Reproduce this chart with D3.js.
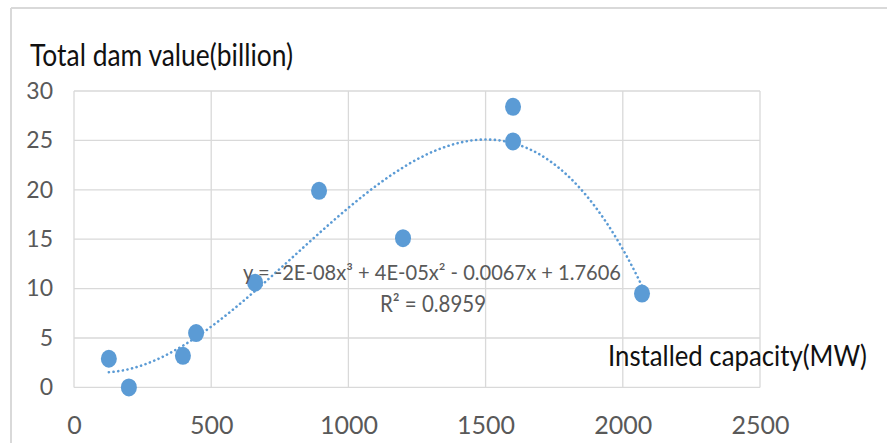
<!DOCTYPE html>
<html>
<head>
<meta charset="utf-8">
<script src="https://cdn.jsdelivr.net/npm/d3@7"></script>
<style>
  body { margin: 0; background: #fff; }
  svg text { font-family: Lato, "Open Sans", sans-serif; }
</style>
</head>
<body>
<svg id="chart" width="887" height="443"></svg>
<script>
// Installed capacity (MW) and total dam value (billion) for each dam
const capacity = [127, 200, 397, 445, 660, 893, 1199, 1600, 1600, 2070];
const damValue = [2.9, 0, 3.2, 5.5, 10.6, 19.9, 15.1, 28.4, 24.9, 9.5];

const xTicks = [0, 500, 1000, 1500, 2000, 2500];
const yTicks = [0, 5, 10, 15, 20, 25, 30];

const titleText = "Total dam value(billion)";
const xLabelText = "Installed capacity(MW)";
const equationText = "y = -2E-08x³ + 4E-05x² - 0.0067x + 1.7606";
const r2Text = "R² = 0.8959";

const blue = "#5b9bd5";
const gridColor = "#d9d9d9";
const tickColor = "#595959";

const svg = d3.select("#chart");

// Outer chart frame: top and left edges
svg.append("line")
  .attr("x1", 11).attr("x2", 887).attr("y1", 8).attr("y2", 8)
  .attr("stroke", gridColor).attr("stroke-width", 2);
svg.append("line")
  .attr("x1", 11).attr("x2", 11).attr("y1", 8).attr("y2", 443)
  .attr("stroke", gridColor).attr("stroke-width", 2);

const x = d3.scaleLinear().domain([0, 2500]).range([74, 760]);
const y = d3.scaleLinear().domain([0, 30]).range([387.4, 91]);

// Gridlines
svg.append("g").selectAll("line").data(xTicks).join("line")
  .attr("x1", d => x(d)).attr("x2", d => x(d))
  .attr("y1", y(30)).attr("y2", y(0))
  .attr("stroke", gridColor).attr("stroke-width", 1.3);
svg.append("g").selectAll("line").data(yTicks).join("line")
  .attr("x1", x(0)).attr("x2", x(2500))
  .attr("y1", d => y(d)).attr("y2", d => y(d))
  .attr("stroke", gridColor).attr("stroke-width", 1.3);

// Axes (labels only)
const yAxis = svg.append("g")
  .attr("transform", `translate(${x(0)},0)`)
  .call(d3.axisLeft(y).tickValues(yTicks).tickFormat(d3.format("d")).tickSize(0).tickPadding(21));
yAxis.select(".domain").remove();
yAxis.selectAll("text")
  .attr("font-family", "Lato, sans-serif")
  .attr("font-size", 23).attr("fill", tickColor);

const xAxis = svg.append("g")
  .attr("transform", `translate(0,${y(0)})`)
  .call(d3.axisBottom(x).tickValues(xTicks).tickFormat(d3.format("d")).tickSize(0).tickPadding(29));
xAxis.select(".domain").remove();
xAxis.selectAll("text")
  .attr("font-family", "Lato, sans-serif")
  .attr("font-size", 25).attr("fill", tickColor);

// Polynomial (order 3) least-squares trendline
function polyFit(xs, ys, order) {
  const n = order + 1;
  const s = 1000; // scale x for numerical stability
  const A = Array.from({length: n}, () => new Array(n + 1).fill(0));
  xs.forEach((xv, k) => {
    const t = xv / s;
    for (let i = 0; i < n; i++) {
      for (let j = 0; j < n; j++) A[i][j] += Math.pow(t, i + j);
      A[i][n] += ys[k] * Math.pow(t, i);
    }
  });
  for (let c = 0; c < n; c++) {
    let p = c;
    for (let r = c + 1; r < n; r++) if (Math.abs(A[r][c]) > Math.abs(A[p][c])) p = r;
    [A[c], A[p]] = [A[p], A[c]];
    for (let r = 0; r < n; r++) {
      if (r === c) continue;
      const f = A[r][c] / A[c][c];
      for (let k = c; k <= n; k++) A[r][k] -= f * A[c][k];
    }
  }
  const coef = A.map((row, i) => row[n] / row[i]);
  return xv => coef.reduce((acc, cf, i) => acc + cf * Math.pow(xv / s, i), 0);
}
const trend = polyFit(capacity, damValue, 3);
const xMin = d3.min(capacity), xMax = d3.max(capacity);
const trendPts = d3.range(0, 201).map(i => {
  const xv = xMin + (xMax - xMin) * i / 200;
  return [xv, trend(xv)];
});
svg.append("path")
  .datum(trendPts)
  .attr("d", d3.line().x(d => x(d[0])).y(d => y(d[1])))
  .attr("fill", "none")
  .attr("stroke", blue)
  .attr("stroke-width", 2.6)
  .attr("stroke-linecap", "round")
  .attr("stroke-dasharray", "0.1 4.6");

// Data points
svg.append("g").selectAll("ellipse").data(capacity.map((c, i) => [c, damValue[i]])).join("ellipse")
  .attr("cx", d => x(d[0])).attr("cy", d => y(d[1]))
  .attr("rx", 8).attr("ry", 9)
  .attr("fill", blue);

// Trendline equation and R²
svg.append("text")
  .attr("x", 243).attr("y", 280)
  .attr("font-size", 21)
  .attr("fill", tickColor)
  .attr("textLength", 378).attr("lengthAdjust", "spacingAndGlyphs")
  .text(equationText);
svg.append("text")
  .attr("x", 380).attr("y", 312)
  .attr("font-size", 23)
  .attr("fill", tickColor)
  .attr("textLength", 106).attr("lengthAdjust", "spacingAndGlyphs")
  .text(r2Text);

// Axis titles
svg.append("text")
  .attr("x", 30).attr("y", 66)
  .attr("font-size", 31)
  .attr("fill", "#111")
  .attr("textLength", 263).attr("lengthAdjust", "spacingAndGlyphs")
  .text(titleText);
svg.append("text")
  .attr("x", 608).attr("y", 366)
  .attr("font-size", 29)
  .attr("fill", "#111")
  .attr("textLength", 259).attr("lengthAdjust", "spacingAndGlyphs")
  .text(xLabelText);
</script>
</body>
</html>
